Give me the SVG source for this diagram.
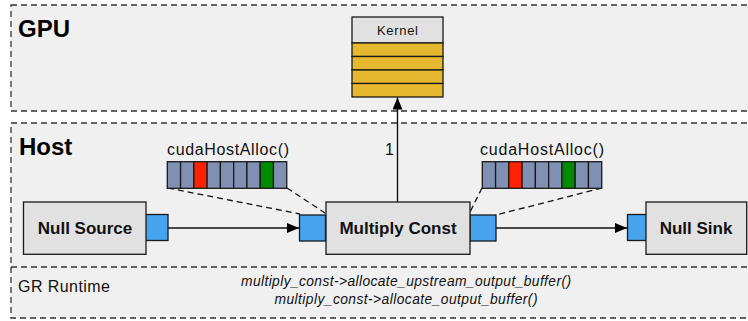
<svg xmlns="http://www.w3.org/2000/svg" width="748" height="321" viewBox="0 0 748 321">
<defs>
<style>
.region{fill:#f0f0f0;stroke:#333;stroke-width:1.3;stroke-dasharray:6 4}
.divider{fill:none;stroke:#333;stroke-width:1.3;stroke-dasharray:6 4}
.node{fill:#e1e1e1;stroke:#1a1a1a;stroke-width:1.3}
.port{fill:#47a3ee;stroke:#1a1a1a;stroke-width:1.3}
.cell{fill:#7f90b2;stroke:#1a1a1a;stroke-width:1.3}
.red{fill:#ff2200}
.green{fill:#008a00}
.gold{fill:#e5b830;stroke:#1a1a1a;stroke-width:1.3}
.edge{fill:none;stroke:#111;stroke-width:1.4}
.dash{fill:none;stroke:#111;stroke-width:1.3;stroke-dasharray:6 4}
.title{font-family:"Liberation Sans",Arial,sans-serif;font-weight:bold;font-size:24px;fill:#000}
.ntext{font-family:"Liberation Sans",Arial,sans-serif;font-weight:bold;font-size:17px;fill:#111;text-anchor:middle}
.lbl{font-family:"Liberation Sans",Arial,sans-serif;font-size:16px;fill:#111}
.ital{font-family:"Liberation Sans",Arial,sans-serif;font-style:italic;font-size:13.8px;fill:#111;text-anchor:middle}
</style>
<marker id="arr" markerUnits="userSpaceOnUse" markerWidth="13" markerHeight="10" refX="12" refY="5" orient="auto">
<path d="M0,0 L12,5 L0,10 Z" fill="#000"/>
</marker>
</defs>
<rect width="748" height="321" fill="#ffffff"/>

<g id="gpu-region">
<rect class="region" x="11" y="5" width="745" height="106"/>
<text class="title" x="18" y="37">GPU</text>
</g>

<g id="host-region">
<rect class="region" x="11" y="123" width="745" height="195"/>
<line class="divider" x1="11" y1="267" x2="756" y2="267"/>
<text class="title" x="19" y="155">Host</text>
</g>

<g id="gr-runtime">
<text class="lbl" x="18" y="292" font-size="15" textLength="92" lengthAdjust="spacing">GR Runtime</text>
<text class="ital" x="406" y="286" textLength="330" lengthAdjust="spacing">multiply_const-&gt;allocate_upstream_output_buffer()</text>
<text class="ital" x="406" y="304" textLength="263" lengthAdjust="spacing">multiply_const-&gt;allocate_output_buffer()</text>
</g>

<g id="kernel">
<rect class="node" x="352" y="17" width="91" height="26"/>
<text x="397.5" y="35" font-family="Liberation Sans, Arial, sans-serif" font-size="13" text-anchor="middle" fill="#111" textLength="41" lengthAdjust="spacing">Kernel</text>
<rect class="gold" x="352" y="43" width="91" height="13.5"/>
<rect class="gold" x="352" y="56.5" width="91" height="13.5"/>
<rect class="gold" x="352" y="70" width="91" height="13.5"/>
<rect class="gold" x="352" y="83.5" width="91" height="13.5"/>
</g>

<g id="connectors">
<line class="edge" x1="168" y1="228" x2="299" y2="228" marker-end="url(#arr)"/>
<line class="edge" x1="496" y1="228" x2="627" y2="228" marker-end="url(#arr)"/>
<line class="edge" x1="397.5" y1="202" x2="397.5" y2="97.5" marker-end="url(#arr)"/>
<text class="lbl" x="389.5" y="155" text-anchor="middle">1</text>
<line class="dash" x1="168" y1="188" x2="300" y2="214"/>
<line class="dash" x1="287" y1="188" x2="325" y2="213"/>
<line class="dash" x1="482" y1="188" x2="470" y2="212"/>
<line class="dash" x1="602" y1="188" x2="496" y2="215"/>
</g>

<g id="buffer-1">
<text class="lbl" x="228" y="155" text-anchor="middle" textLength="122" lengthAdjust="spacing">cudaHostAlloc()</text>
<rect class="cell" x="167.3" y="161.7" width="13.27" height="26.6"/>
<rect class="cell" x="180.57" y="161.7" width="13.27" height="26.6"/>
<rect class="cell red" x="193.84" y="161.7" width="13.27" height="26.6"/>
<rect class="cell" x="207.11" y="161.7" width="13.27" height="26.6"/>
<rect class="cell" x="220.38" y="161.7" width="13.27" height="26.6"/>
<rect class="cell" x="233.65" y="161.7" width="13.27" height="26.6"/>
<rect class="cell" x="246.92" y="161.7" width="13.27" height="26.6"/>
<rect class="cell green" x="260.19" y="161.7" width="13.27" height="26.6"/>
<rect class="cell" x="273.46" y="161.7" width="13.27" height="26.6"/>
</g>

<g id="buffer-2">
<text class="lbl" x="542" y="155" text-anchor="middle" textLength="124" lengthAdjust="spacing">cudaHostAlloc()</text>
<rect class="cell" x="482.3" y="161.7" width="13.27" height="26.6"/>
<rect class="cell" x="495.57" y="161.7" width="13.27" height="26.6"/>
<rect class="cell red" x="508.84" y="161.7" width="13.27" height="26.6"/>
<rect class="cell" x="522.11" y="161.7" width="13.27" height="26.6"/>
<rect class="cell" x="535.38" y="161.7" width="13.27" height="26.6"/>
<rect class="cell" x="548.65" y="161.7" width="13.27" height="26.6"/>
<rect class="cell green" x="561.92" y="161.7" width="13.27" height="26.6"/>
<rect class="cell" x="575.19" y="161.7" width="13.27" height="26.6"/>
<rect class="cell" x="588.46" y="161.7" width="13.27" height="26.6"/>
</g>

<g id="null-source">
<rect class="port" x="142" y="214.5" width="26" height="26"/>
<rect class="node" x="23.5" y="202" width="122.5" height="52.3"/>
<text class="ntext" x="85" y="234">Null Source</text>
</g>

<g id="multiply-const">
<rect class="port" x="299.5" y="215" width="26" height="26"/>
<rect class="port" x="470" y="215" width="26" height="26"/>
<rect class="node" x="326" y="202" width="144" height="52.3"/>
<text class="ntext" x="398" y="234">Multiply Const</text>
</g>

<g id="null-sink">
<rect class="port" x="627.5" y="214.5" width="26" height="26"/>
<rect class="node" x="646" y="202" width="100.7" height="52.3"/>
<text class="ntext" x="696" y="234">Null Sink</text>
</g>
</svg>
